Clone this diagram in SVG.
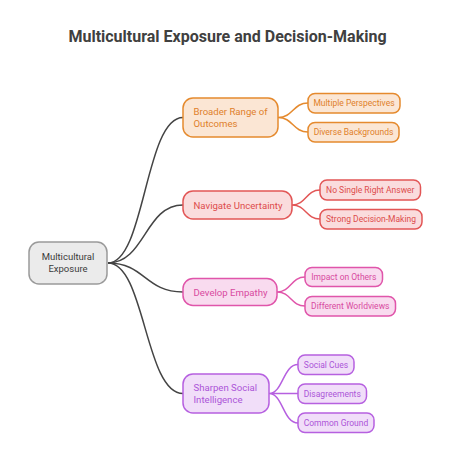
<svg xmlns="http://www.w3.org/2000/svg" width="455" height="464" viewBox="0 0 455 464">
<style>
text{font-family:Roboto,"Liberation Sans",sans-serif;}
.title{font-size:16px;font-weight:bold;fill:#404040;text-anchor:middle;}
.l1 text{font-size:9.6px;}
.leaf text{font-size:8.5px;text-anchor:middle;}
.c0 path{fill:none;stroke:#444;stroke-width:1.5;}
.cb{fill:none;stroke-width:1.5;}
.or rect{fill:#FBE6D4;stroke:#E58A2E;stroke-width:1.5;} .or text{fill:#E0802A;}
.rd rect{fill:#FADCDD;stroke:#E25656;stroke-width:1.5;} .rd text{fill:#DD4C4C;}
.pk rect{fill:#F9DBEF;stroke:#E055AA;stroke-width:1.5;} .pk text{fill:#D84AA0;}
.pu rect{fill:#F1DEF9;stroke:#B660E0;stroke-width:1.5;} .pu text{fill:#AC55D8;}
</style>
<rect width="455" height="464" fill="#fff"/>
<text class="title" x="227.5" y="42">Multicultural Exposure and Decision-Making</text>
<g id="connectors">
<g class="c0">
<path d="M108 263 C145 263 145 117.5 183 117.5"/>
<path d="M108 263 C145 263 145 205 183 205"/>
<path d="M108 263 C145 263 145 292 183 292"/>
<path d="M108 263 C145 263 145 393.5 183 393.5"/>
</g>
<path class="cb" stroke="#E58A2E" d="M278 117.5 C293 117.5 293 103 308 103 M278 117.5 C293 117.5 293 132 308 132"/>
<path class="cb" stroke="#E25656" d="M292 205 C306 205 306 190 320 190 M292 205 C306 205 306 219 320 219"/>
<path class="cb" stroke="#E055AA" d="M277 292 C291 292 291 277 305 277 M277 292 C291 292 291 306 305 306"/>
<path class="cb" stroke="#B660E0" d="M269 393.5 C283 393.5 283 364.5 298 364.5 M269 393.5 L298 393.5 M269 393.5 C283 393.5 283 423 298 423"/>
</g>
<g id="root">
<rect x="29" y="242" width="78" height="42" rx="10" fill="#EBEBEB" stroke="#9A9A9A" stroke-width="1.5"/>
<text x="68" y="260" font-size="9.5" fill="#3c3c3c" text-anchor="middle">Multicultural</text>
<text x="68" y="272" font-size="9.5" fill="#3c3c3c" text-anchor="middle">Exposure</text>
</g>
<g id="broader" class="l1 or">
<rect x="183" y="98" width="95" height="39" rx="10"/>
<text x="193.5" y="115">Broader Range of</text>
<text x="193.5" y="127">Outcomes</text>
</g>
<g id="navigate" class="l1 rd">
<rect x="183" y="191" width="109" height="28" rx="10"/>
<text x="193.5" y="208.5">Navigate Uncertainty</text>
</g>
<g id="empathy" class="l1 pk">
<rect x="183" y="278.5" width="94" height="27" rx="10"/>
<text x="193.5" y="295.5">Develop Empathy</text>
</g>
<g id="sharpen" class="l1 pu">
<rect x="183" y="374" width="86" height="39" rx="10"/>
<text x="193.5" y="391">Sharpen Social</text>
<text x="193.5" y="403">Intelligence</text>
</g>
<g id="multiple" class="leaf or"><rect x="308" y="93.5" width="92" height="19.5" rx="7"/><text x="354" y="106">Multiple Perspectives</text></g>
<g id="diverse" class="leaf or"><rect x="308" y="122.5" width="91" height="19.5" rx="7"/><text x="353.5" y="135">Diverse Backgrounds</text></g>
<g id="nosingle" class="leaf rd"><rect x="320" y="180" width="100.5" height="20" rx="7"/><text x="370.25" y="193">No Single Right Answer</text></g>
<g id="strong" class="leaf rd"><rect x="320" y="209.5" width="102" height="19.5" rx="7"/><text x="371" y="222">Strong Decision-Making</text></g>
<g id="impact" class="leaf pk"><rect x="305" y="267.5" width="77.5" height="19" rx="7"/><text x="343.75" y="280">Impact on Others</text></g>
<g id="different" class="leaf pk"><rect x="305" y="296.5" width="90.5" height="19.5" rx="7"/><text x="350.25" y="309">Different Worldviews</text></g>
<g id="cues" class="leaf pu"><rect x="298" y="355" width="56" height="19.5" rx="7"/><text x="326" y="367.5">Social Cues</text></g>
<g id="disagree" class="leaf pu"><rect x="298" y="384" width="68.5" height="19.5" rx="7"/><text x="332.25" y="396.5">Disagreements</text></g>
<g id="common" class="leaf pu"><rect x="298" y="413" width="76" height="19.5" rx="7"/><text x="336" y="425.5">Common Ground</text></g>
</svg>
